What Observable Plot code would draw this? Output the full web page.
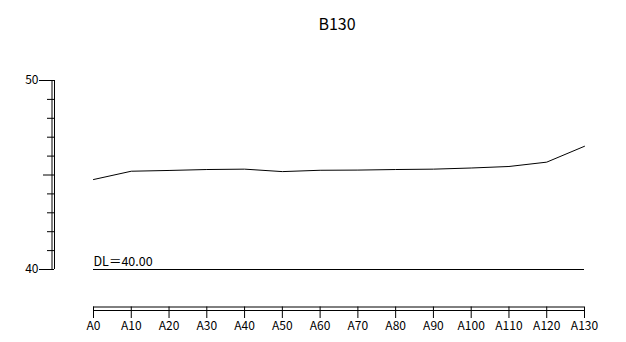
<!DOCTYPE html>
<html>
<head>
<meta charset="utf-8">
<script src="https://cdn.jsdelivr.net/npm/d3@7"></script>
<script src="https://cdn.jsdelivr.net/npm/@observablehq/plot@0.6"></script>
<style>
  html, body { margin: 0; padding: 0; background: #fff; }
</style>
</head>
<body>
<div id="chart"></div>
<script>
const title = "B130";
const categories = ["A0","A10","A20","A30","A40","A50","A60","A70","A80","A90","A100","A110","A120","A130"];
const values = [44.76, 45.2, 45.24, 45.29, 45.31, 45.18, 45.25, 45.26, 45.29, 45.31, 45.37, 45.45, 45.68, 46.52];
const dlValue = 40;
const dlLabel = "DL＝40.00";
const yDomain = [40, 50];
const majorTicks = [40, 50];
const midTicks = [45];
const minorTicks = [41, 42, 43, 44, 46, 47, 48, 49];

const data = categories.map((c, i) => ({cat: c, v: values[i]}));
const first = categories[0], last = categories[categories.length - 1];

const W = 626, H = 342, ML = 93, MR = 42, MT = 80, MB = 73;
const frameW = W - ML - MR, frameH = H - MT - MB;
const axisGap = 39; // y-axis line distance left of frame
const xAxisGap = 37.5; // x-axis line distance below frame

function yTicks(ticks, size) {
  return Plot.tickY(ticks, {y: d => d, dx: -axisGap - size, insetRight: frameW - size, stroke: "#000"});
}

const chart = Plot.plot({
  width: W,
  height: H,
  marginLeft: ML,
  marginRight: MR,
  marginTop: MT,
  marginBottom: MB,
  style: {fontFamily: "'Noto Sans CJK JP', 'Noto Sans', sans-serif", fontSize: "12px", color: "#000", background: "#fff"},
  x: {type: "point", domain: categories, padding: 0, round: false, axis: null},
  y: {domain: yDomain, axis: null},
  marks: [
    // title
    Plot.text([title], {text: d => d, frameAnchor: "top", dx: -2, dy: -56, lineAnchor: "middle", fontSize: 16, fill: "#000"}),
    // y axis double line
    Plot.ruleX([first], {x: d => d, y1: () => yDomain[0], y2: () => yDomain[1], dx: -axisGap - 2.5, stroke: "#000"}),
    Plot.ruleX([first], {x: d => d, y1: () => yDomain[0], y2: () => yDomain[1], dx: -axisGap, stroke: "#000"}),
    yTicks(minorTicks, 7),
    yTicks(midTicks, 11),
    yTicks(majorTicks, 15),
    Plot.text(majorTicks, {y: d => d, text: d => String(d), frameAnchor: "left", dx: -axisGap - 16, textAnchor: "end", fontSize: 12, fill: "#000"}),
    // x axis double line
    Plot.ruleY([dlValue], {y: d => d, x1: () => first, x2: () => last, dy: xAxisGap, stroke: "#000"}),
    Plot.ruleY([dlValue], {y: d => d, x1: () => first, x2: () => last, dy: xAxisGap + 3.5, stroke: "#000"}),
    Plot.tickX(categories, {x: d => d, insetTop: frameH - 11.5, dy: xAxisGap + 11.5, stroke: "#000"}),
    Plot.text(categories, {x: d => d, text: d => d, frameAnchor: "bottom", dy: xAxisGap + 11.5 + 2.5, lineAnchor: "top", fontSize: 12, fill: "#000"}),
    // DL line
    Plot.ruleY([dlValue], {y: d => d, x1: () => first, x2: () => last, stroke: "#000"}),
    Plot.text([dlLabel], {x: () => first, y: () => dlValue, text: d => d, textAnchor: "start", lineAnchor: "bottom", dy: -3.5, fontSize: 12.5, fill: "#000"}),
    // data line
    Plot.line(data, {x: "cat", y: "v", stroke: "#000", strokeWidth: 1})
  ]
});
document.getElementById("chart").appendChild(chart);
</script>
</body>
</html>
